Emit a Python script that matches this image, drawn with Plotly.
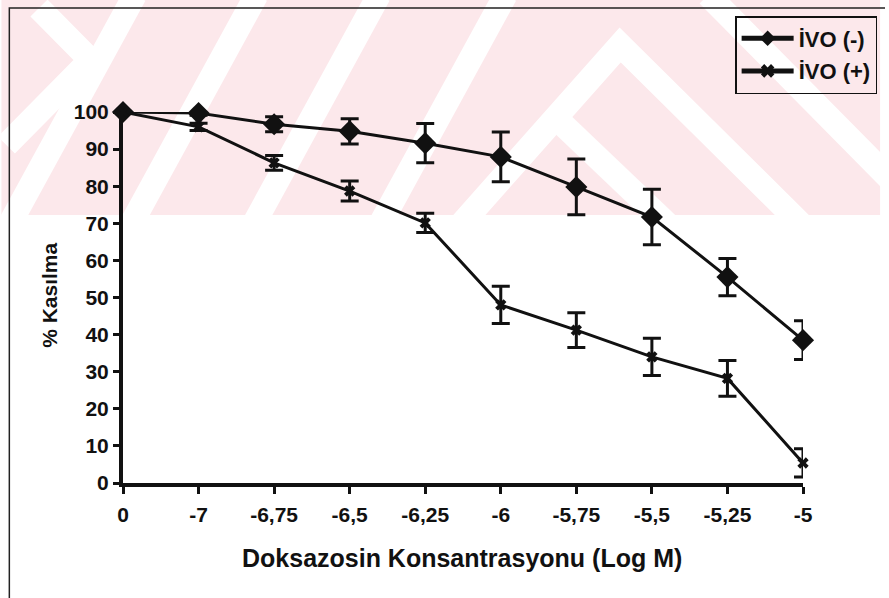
import plotly.graph_objects as go

# ---- data ----
conc_labels = ["0", "-7", "-6,75", "-6,5", "-6,25", "-6", "-5,75", "-5,5", "-5,25", "-5"]
ivo_neg = [100, 99.7, 96.7, 94.8, 91.6, 87.9, 79.8, 71.7, 55.5, 38.5]
ivo_neg_err = [0, 0.6, 2.0, 3.4, 5.3, 6.7, 7.5, 7.5, 5.0, 5.2]
ivo_pos = [100, 96.0, 86.3, 78.7, 70.1, 48.0, 41.2, 34.0, 28.2, 5.4]
ivo_pos_err = [0, 1.0, 2.0, 2.7, 2.6, 5.0, 4.7, 5.0, 4.8, 3.8]
y_ticks = [0, 10, 20, 30, 40, 50, 60, 70, 80, 90, 100]

W, H = 889, 598
ML, MR, MT, MB = 123, 78, 112, 115
PW, PH = W - ML - MR, H - MT - MB

def px(x):
    return (x - ML) / PW

def py(y):
    return (H - MB - y) / PH

FONT = "Liberation Sans, Arial, sans-serif"
xidx = list(range(len(conc_labels)))

fig = go.Figure()
fig.add_trace(go.Scatter(
    x=xidx, y=ivo_neg, name="İVO (-)", mode="lines+markers",
    line=dict(color="#111111", width=3),
    marker=dict(symbol="diamond", size=17, color="#111111"),
    error_y=dict(type="data", array=ivo_neg_err, visible=True,
                 color="#111111", thickness=3, width=9),
    cliponaxis=False, legendgroup="a"))
fig.add_trace(go.Scatter(
    x=xidx, y=ivo_pos, name="İVO (+)", mode="lines+markers",
    line=dict(color="#111111", width=3),
    marker=dict(symbol="x", size=10, color="#111111"),
    error_y=dict(type="data", array=ivo_pos_err, visible=True,
                 color="#111111", thickness=3, width=9),
    cliponaxis=False, legendgroup="b"))

# ---- decorative watermark band + frame ----
shapes = []
pink = "#fce8eb"
shapes.append(dict(type="rect", xref="paper", yref="paper", layer="below",
                   x0=px(0), x1=px(W), y0=py(0), y1=py(215),
                   fillcolor=pink, line=dict(width=0)))
white_segments = [
    [(38, 8), (90, 60), (5, 145)],
    [(135, -5), (5, 230)],
    [(258, -5), (128, 230)],
    [(382, -5), (252, 230)],
    [(510, -5), (380, 230)],
    [(460, 230), (626, 45), (815, 230)],
    [(560, 117), (680, 230)],
    [(715, -5), (905, 185)],
]
for seg in white_segments:
    path = "M " + " L ".join(f"{px(a)},{py(b)}" for a, b in seg)
    shapes.append(dict(type="path", xref="paper", yref="paper", layer="below",
                       path=path, line=dict(color="white", width=24)))
shapes.append(dict(type="rect", xref="paper", yref="paper", layer="below",
                   x0=px(-5), x1=px(W + 5), y0=py(215), y1=py(H + 20),
                   fillcolor="white", line=dict(width=0)))
shapes.append(dict(type="rect", xref="paper", yref="paper", layer="below",
                   x0=px(-5), x1=px(W + 5), y0=py(-20), y1=py(0),
                   fillcolor="white", line=dict(width=0)))
# outer frame (left & top)
shapes.append(dict(type="path", xref="paper", yref="paper", layer="below",
                   path=f"M {px(8)},{py(H+5)} L {px(8)},{py(8)} L {px(W+5)},{py(8)}",
                   line=dict(color="#222222", width=1.5)))

fig.update_layout(
    width=W, height=H,
    margin=dict(l=ML, r=MR, t=MT, b=MB),
    paper_bgcolor="white", plot_bgcolor="rgba(0,0,0,0)",
    font=dict(family=FONT, color="#111111", size=16, weight="bold"),
    shapes=shapes,
    showlegend=True,
    legend=dict(x=px(886), y=py(16), xanchor="right", yanchor="top",
                bgcolor="rgba(0,0,0,0)", bordercolor="#111111", borderwidth=1.5,
                font=dict(family=FONT, size=22, weight="bold", color="#111111"),
                tracegroupgap=1, itemwidth=52, itemsizing="constant"),
    xaxis=dict(range=[0, 9], tickvals=xidx, ticktext=conc_labels,
               showgrid=False, zeroline=False, showline=True,
               linecolor="#111111", linewidth=4,
               ticks="outside", ticklen=7, tickwidth=3, tickcolor="#111111",
               ticklabelstandoff=3,
               tickfont=dict(family=FONT, size=21, weight="bold")),
    yaxis=dict(range=[0, 100], tickvals=y_ticks,
               showgrid=False, zeroline=False, showline=True,
               linecolor="#111111", linewidth=4,
               ticks="outside", ticklen=6, tickwidth=3, tickcolor="#111111",
               tickfont=dict(family=FONT, size=21, weight="bold")),
    annotations=[
        dict(text="Doksazosin Konsantrasyonu (Log M)", xref="paper", yref="paper",
             x=px(466), y=py(558), xanchor="center", yanchor="middle",
             showarrow=False, font=dict(family=FONT, size=25, weight="bold")),
        dict(text="% Kasılma", xref="paper", yref="paper",
             x=px(48), y=py(295), xanchor="center", yanchor="middle",
             textangle=-90, showarrow=False,
             font=dict(family=FONT, size=21, weight="bold")),
    ],
)

fig.write_html("out.html")
